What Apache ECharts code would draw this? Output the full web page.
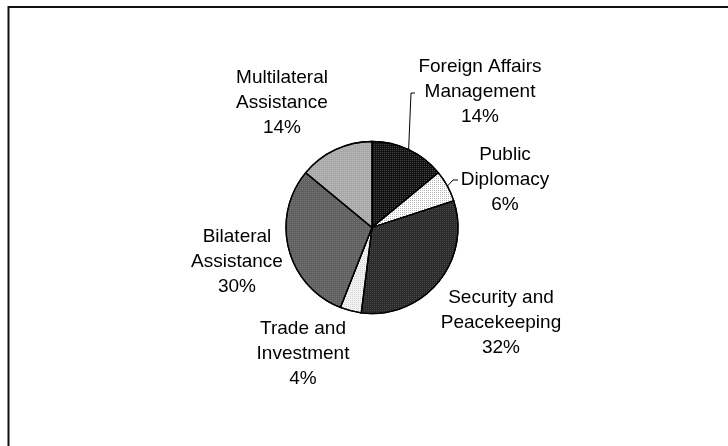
<!DOCTYPE html>
<html>
<head>
<meta charset="utf-8">
<script src="https://cdn.jsdelivr.net/npm/echarts@6/dist/echarts.min.js"></script>
<style>
  html, body { margin: 0; padding: 0; background: #fff; }
  #chart { width: 728px; height: 446px; }
</style>
</head>
<body>
<div id="chart"></div>
<script>
// Budget shares by function (percent), clockwise from 12 o'clock
const categories = [
  'Foreign Affairs\nManagement',
  'Public\nDiplomacy',
  'Security and\nPeacekeeping',
  'Trade and\nInvestment',
  'Bilateral\nAssistance',
  'Multilateral\nAssistance'
];
const shares = [14, 6, 32, 4, 30, 14];

// Slice fills: base tone + fine dot texture
const sliceFill = ['#111111', '#ffffff', '#2b2b2b', '#f2f2f2', '#606060', '#a8a8a8'];
const dotFill = ['rgba(120,120,120,0.55)', 'rgba(0,0,0,0.28)', 'rgba(110,110,110,0.45)',
                 'rgba(0,0,0,0.12)', 'rgba(160,160,160,0.35)', 'rgba(220,220,220,0.35)'];

// Label block centres
const labelPos = [[480, 92], [505, 180], [501, 323], [303, 354], [237, 262], [282, 103]];
// Bend/end points of the two leader lines (Foreign Affairs, Public Diplomacy)
const leaderEnds = {
  0: [[411, 93], [415, 93]],
  1: [[453, 180], [458, 180]]
};

const CX = 372, CY = 227.5, R = 86;

const chart = echarts.init(document.getElementById('chart'), null, { renderer: 'canvas' });

const total = shares.reduce((a, b) => a + b, 0);
function edgePoint(i) {
  let before = 0;
  for (let k = 0; k < i; k++) before += shares[k];
  const mid = (before + shares[i] / 2) / total * Math.PI * 2;
  return [CX + R * Math.sin(mid), CY - R * Math.cos(mid)];
}

const leaders = Object.keys(leaderEnds).map(k => {
  const i = +k;
  return {
    type: 'polyline',
    shape: { points: [edgePoint(i)].concat(leaderEnds[k]) },
    style: { stroke: '#000', lineWidth: 1, fill: null },
    z: 100
  };
});

chart.setOption({
  animation: false,
  backgroundColor: '#ffffff',
  graphic: [
    {
      type: 'rect',
      shape: { x: 8.5, y: 7, width: 900, height: 600 },
      style: { fill: null, stroke: '#111', lineWidth: 2 },
      z: 0
    }
  ].concat(leaders),
  series: [{
    type: 'pie',
    center: [CX, CY],
    radius: R,
    startAngle: 90,
    clockwise: true,
    silent: true,
    itemStyle: { borderColor: '#000', borderWidth: 1.3 },
    label: {
      show: true,
      fontFamily: 'Liberation Sans, Arial, sans-serif',
      fontSize: 19,
      lineHeight: 25,
      color: '#000',
      align: 'center',
      formatter: p => p.name + '\n' + p.value + '%'
    },
    labelLine: { show: false },
    labelLayout: params => {
      const p = labelPos[params.dataIndex];
      return { x: p[0], y: p[1], align: 'center', verticalAlign: 'middle' };
    },
    data: categories.map((name, i) => ({
      name: name,
      value: shares[i],
      itemStyle: {
        color: sliceFill[i],
        decal: {
          symbol: 'rect',
          symbolSize: 1,
          dashArrayX: [1, 1],
          dashArrayY: [1, 1],
          color: dotFill[i]
        }
      }
    }))
  }]
});
</script>
</body>
</html>
